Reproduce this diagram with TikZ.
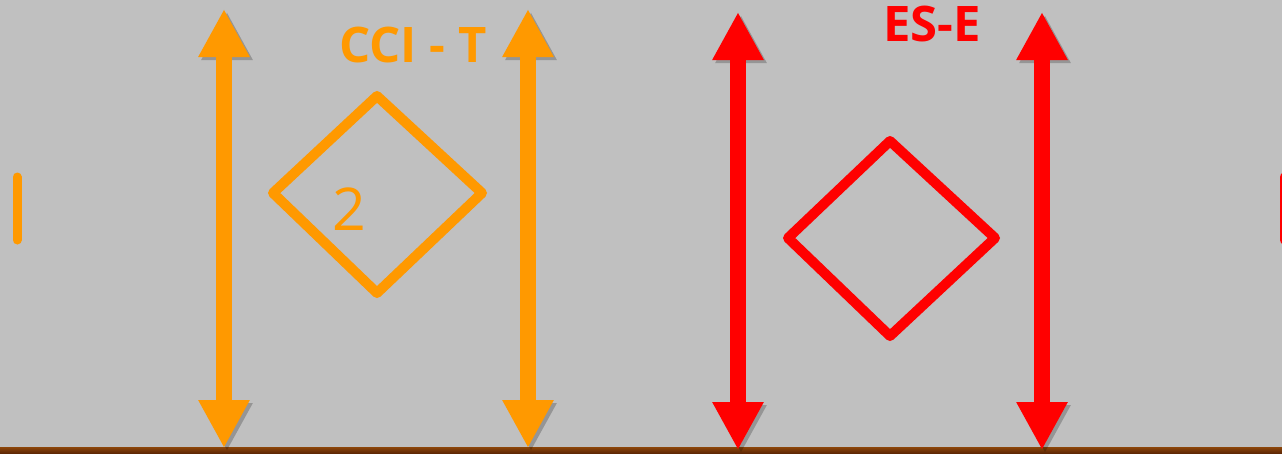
\documentclass[tikz,border=0pt]{standalone}
\usepackage{fontspec}
\setmainfont{Open Sans}
\usetikzlibrary{arrows.meta}
\definecolor{bg}{RGB}{192,192,192}
\definecolor{cciorange}{RGB}{255,153,0}
\definecolor{esred}{RGB}{255,0,0}
\definecolor{woodA}{RGB}{140,70,10}
\definecolor{woodB}{RGB}{95,40,5}
\tikzset{
  dbl/.style={line width=16pt, arrows={Triangle[width=48pt,length=48pt]-Triangle[width=48pt,length=48pt]},
    preaction={draw=black, draw opacity=0.22, fill opacity=0.22, transform canvas={xshift=3pt,yshift=-3pt}}},
  dia/.style={line width=10pt, line join=round,
    preaction={draw=black, draw opacity=0.22, transform canvas={xshift=3pt,yshift=-3pt}}},
  bar/.style={line width=9pt, line cap=round,
    preaction={draw=black, draw opacity=0.22, transform canvas={xshift=3pt,yshift=-3pt}}},
  lbl/.style={font=\bfseries\fontsize{49}{49}\selectfont, inner sep=0pt, anchor=base},
  digit/.style={font=\fontsize{59}{59}\selectfont, inner sep=0pt, anchor=base}
}
\begin{document}
\begin{tikzpicture}[x=1pt,y=-1pt]
\useasboundingbox (0,0) rectangle (1282,453);
\fill[bg] (0,0) rectangle (1282,453);
\shade[top color=woodA, bottom color=woodB] (0,447) rectangle (1282,453);
% side bars
\coordinate (lb1) at (17,177); \coordinate (lb2) at (17,240);
\draw[bar, cciorange] (lb1) -- (lb2);
\coordinate (rb1) at (1284,177); \coordinate (rb2) at (1284,240);
\draw[bar, esred] (rb1) -- (rb2);
% orange arrows
\coordinate (o1t) at (224,9); \coordinate (o1b) at (224,448);
\coordinate (o2t) at (528,9); \coordinate (o2b) at (528,448);
\draw[dbl, cciorange] (o1t) -- (o1b);
\draw[dbl, cciorange] (o2t) -- (o2b);
% red arrows
\coordinate (r1t) at (738,12); \coordinate (r1b) at (738,450);
\coordinate (r2t) at (1042,12); \coordinate (r2b) at (1042,450);
\draw[dbl, esred] (r1t) -- (r1b);
\draw[dbl, esred] (r2t) -- (r2b);
% diamonds
\draw[dia, cciorange] (377,96) -- (482,193) -- (377,293) -- (273,193) -- cycle;
\draw[dia, esred] (890,141) -- (995,238) -- (890,336) -- (788,238) -- cycle;
% labels
\node[lbl, text=cciorange] (cci) at (413,62) {CCI - T};
\node[lbl, text=esred] (ese) at (932,41) {ES-E};
\node[digit, text=cciorange] (two) at (349,230) {2};
\end{tikzpicture}
\end{document}
